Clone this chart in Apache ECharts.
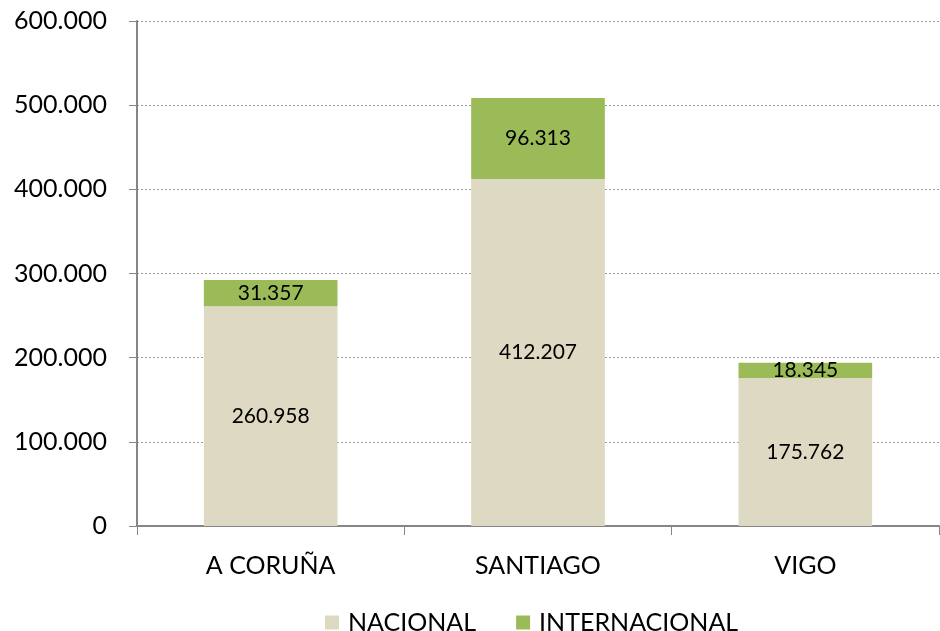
<!DOCTYPE html>
<html>
<head>
<meta charset="utf-8">
<script src="https://cdn.jsdelivr.net/npm/echarts@6/dist/echarts.min.js"></script>
<style>
  html, body { margin: 0; padding: 0; background: #fff; }
  #chart { width: 940px; height: 631px; }
</style>
</head>
<body>
<div id="chart"></div>
<script>
// aeropuertos
var categories = ['A CORUÑA', 'SANTIAGO', 'VIGO']
var nacional = [260958, 412207, 175762]
var internacional = [31357, 96313, 18345]
var yTicks = [0, 100000, 200000, 300000, 400000, 500000, 600000]

var fontFam = 'Lato, "Open Sans", sans-serif'

// 260958 -> 260.958
function fmt(v) {
  return String(v).replace(/\B(?=(\d{3})+(?!\d))/g, '.')
}

var myChart = echarts.init(document.getElementById('chart'))

myChart.setOption({
  animation: false,
  textStyle: { fontFamily: fontFam },
  grid: { left: 137, right: 1, top: 21, bottom: 105 },
  legend: {
    top: 605,
    left: 320,
    itemWidth: 14,
    itemHeight: 14,
    itemGap: 40,
    icon: 'rect',
    textStyle: { fontSize: 25, color: '#000', fontFamily: fontFam, padding: [0, 0, 0, 4] },
    data: ['NACIONAL', 'INTERNACIONAL']
  },
  xAxis: {
    type: 'category',
    data: categories,
    axisLine: { lineStyle: { color: '#868686', width: 2 } },
    axisTick: { show: true, length: 9, alignWithLabel: false, lineStyle: { color: '#868686' } },
    axisLabel: { fontSize: 25, color: '#000', margin: 27, fontFamily: fontFam }
  },
  yAxis: {
    type: 'value',
    min: yTicks[0],
    max: yTicks[yTicks.length - 1],
    interval: 100000,
    axisLine: { show: true, lineStyle: { color: '#868686', width: 2 } },
    axisTick: { show: true, length: 8, lineStyle: { color: '#868686' } },
    axisLabel: { fontSize: 25, color: '#000', margin: 30, fontFamily: fontFam, formatter: fmt },
    splitLine: { lineStyle: { color: '#999', type: [2, 2], width: 1 } }
  },
  series: [
    {
      name: 'NACIONAL',
      type: 'bar',
      stack: 'total',
      barWidth: '50%',
      data: nacional,
      itemStyle: { color: '#DDD9C3' },
      label: { show: true, position: 'inside', fontSize: 21, color: '#000', fontFamily: fontFam,
        formatter: function (p) { return fmt(p.value) } }
    },
    {
      name: 'INTERNACIONAL',
      type: 'bar',
      stack: 'total',
      barWidth: '50%',
      data: internacional,
      itemStyle: { color: '#9BBB59' },
      label: { show: true, position: 'inside', fontSize: 21, color: '#000', fontFamily: fontFam,
        formatter: function (p) { return fmt(p.value) } }
    }
  ]
})
</script>
</body>
</html>
